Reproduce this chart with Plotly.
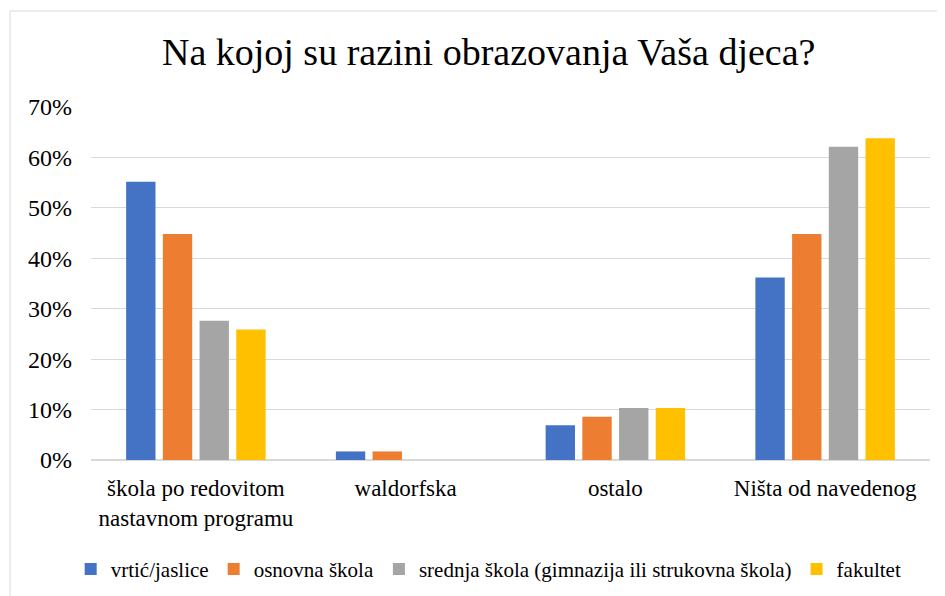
import plotly.graph_objects as go

categories = ['škola po redovitom<br>nastavnom programu', 'waldorfska', 'ostalo', 'Ništa od navedenog']
series_names = ['vrtić/jaslice', 'osnovna škola', 'srednja škola (gimnazija ili strukovna škola)', 'fakultet']
vrtic = [0.552, 0.017, 0.069, 0.362]
osnovna = [0.448, 0.017, 0.086, 0.448]
srednja = [0.276, 0.0, 0.103, 0.621]
fakultet = [0.259, 0.0, 0.103, 0.638]
colors = ['#4472C4', '#ED7D31', '#A5A5A5', '#FFC000']
y_ticks = [0, 0.1, 0.2, 0.3, 0.4, 0.5, 0.6, 0.7]
y_labels = ['0%', '10%', '20%', '30%', '40%', '50%', '60%', '70%']

serif = 'Liberation Serif'

# page has an 8px body margin, so the figure is 8px smaller and shifted
fig = go.Figure()
for name, vals, col in zip(series_names, [vrtic, osnovna, srednja, fakultet], colors):
  fig.add_trace(go.Bar(x=categories, y=vals, name=name, marker_color=col,
                       marker_line_width=0))

fig.update_layout(
  title=dict(text='Na kojoj su razini obrazovanja Vaša djeca?', x=0.513, xanchor='center',
             y=0.925, yanchor='middle', font=dict(size=38, color='#000000', family=serif)),
  width=937, height=588,
  margin=dict(l=83, r=15, t=99, b=136, autoexpand=False),
  paper_bgcolor='white', plot_bgcolor='white',
  font=dict(family=serif, color='#000000', size=22),
  barmode='group', bargap=0.3, bargroupgap=0.2,
  showlegend=True,
  legend=dict(orientation='h', x=0.474, xanchor='center', y=-0.31, yanchor='middle',
              font=dict(size=21, family=serif, color='#000000'), itemwidth=30, tracegroupgap=0),
  xaxis=dict(showgrid=False, showline=False, ticks='', ticklabelstandoff=12,
             tickfont=dict(size=23, family=serif, color='#000000')),
  yaxis=dict(range=[0, 0.7], tickvals=y_ticks, ticktext=y_labels, showgrid=True,
             gridcolor='#d9d9d9', gridwidth=1, zeroline=True, zerolinecolor='#d9d9d9',
             showline=False, ticks='', ticklabelstandoff=18,
             tickfont=dict(size=24, family=serif, color='#000000')),
  shapes=[dict(type='rect', xref='paper', yref='paper', x0=-0.0965, x1=1.03, y0=-0.4, y1=1.272,
               line=dict(color='#d9d9d9', width=1), fillcolor='rgba(0,0,0,0)', layer='below')],
)

fig.write_html('out.html')
